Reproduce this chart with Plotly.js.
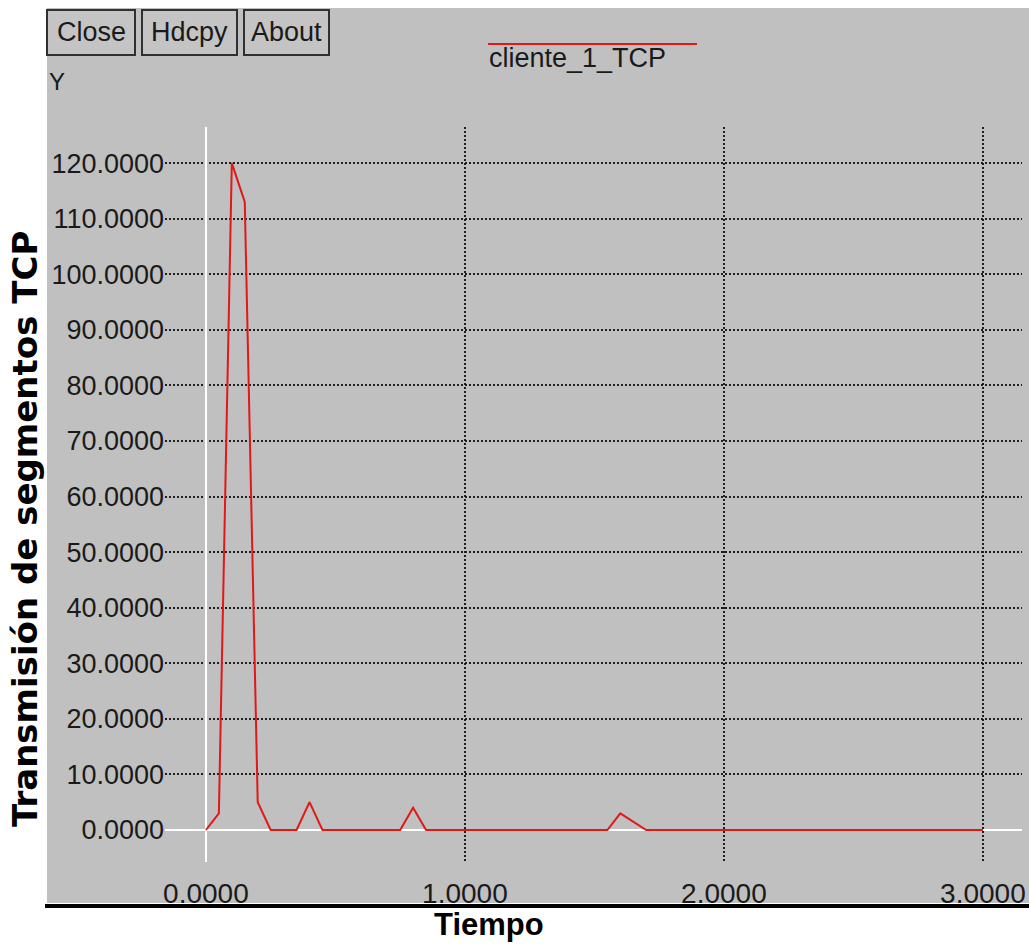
<!DOCTYPE html>
<html>
<head>
<meta charset="utf-8">
<script src="https://cdn.plot.ly/plotly-3.0.1.min.js"></script>
<style>html,body{margin:0;padding:0;background:#fff;}#chart{width:1029px;height:945px;}</style>
</head>
<body>
<div id="chart"></div>
<script>
// ---- data ----
const seriesName = "cliente_1_TCP";
const tiempo = [0, 0.05, 0.1, 0.15, 0.2, 0.25, 0.35, 0.4, 0.45, 0.75, 0.8, 0.85, 1.55, 1.6, 1.7, 3.0];
const segmentos = [0, 3, 120, 113, 5, 0, 0, 5, 0, 0, 4, 0, 0, 3, 0, 0];
const xTicks = [0, 1, 2, 3];
const yTicks = [0, 10, 20, 30, 40, 50, 60, 70, 80, 90, 100, 110, 120];
const buttonLabels = ["Close", "Hdcpy", "About"];
const xTitle = "Tiempo";
const yTitle = "Transmisión de segmentos TCP";
const yCorner = "Y";

// ---- layout helpers (pixel -> paper) ----
const W = 1029, H = 945;
const L = 165, R = 7, T = 127, B = 83;
const PW = W - L - R, PH = H - T - B;
const X = px => (px - L) / PW;
const Y = py => (H - B - py) / PH;

const FONT = "Liberation Sans, Arial, Helvetica, sans-serif";
const WIDEFONT = "DejaVu Sans, Liberation Sans, Arial, sans-serif";
const GRAY = "#c0c0c0";
const RED = "#e01818";

const shapes = [
  // white surroundings
  {type:"rect", xref:"paper", yref:"paper", x0:X(-5), x1:X(47), y0:Y(H+5), y1:Y(-5), fillcolor:"#ffffff", line:{width:0}, layer:"below"},
  {type:"rect", xref:"paper", yref:"paper", x0:X(-5), x1:X(W+5), y0:Y(8), y1:Y(-5), fillcolor:"#ffffff", line:{width:0}, layer:"below"},
  {type:"rect", xref:"paper", yref:"paper", x0:X(-5), x1:X(W+5), y0:Y(H+5), y1:Y(903), fillcolor:"#ffffff", line:{width:0}, layer:"below"},
  // black separator line
  {type:"line", xref:"paper", yref:"paper", x0:X(45), x1:X(W+5), y0:Y(906), y1:Y(906), line:{color:"#000000", width:4}},
  // legend line
  {type:"line", xref:"paper", yref:"paper", x0:X(488), x1:X(697), y0:Y(44), y1:Y(44), line:{color:RED, width:2}}
];

const btnBoxes = [[47,135],[142,237],[244,329]];
const annotations = [];
buttonLabels.forEach((lab, i) => {
  const [a, b] = btnBoxes[i];
  shapes.push({type:"rect", xref:"paper", yref:"paper", x0:X(a), x1:X(b), y0:Y(55), y1:Y(10),
    fillcolor:"#c4c4c4", line:{color:"#303030", width:2}});
  annotations.push({xref:"paper", yref:"paper", x:X((a+b)/2), y:Y(32), text:lab, showarrow:false,
    xanchor:"center", yanchor:"middle", font:{family:FONT, size:27, color:"#1a1a1a"}});
});

annotations.push(
  {xref:"paper", yref:"paper", x:X(47), y:Y(82), text:yCorner, showarrow:false, xanchor:"left", yanchor:"middle",
    font:{family:FONT, size:24, color:"#1a1a1a"}},
  {xref:"paper", yref:"paper", x:X(487), y:Y(58), text:seriesName, showarrow:false, xanchor:"left", yanchor:"middle",
    font:{family:FONT, size:27, color:"#1a1a1a"}},
  {xref:"paper", yref:"paper", x:X(489), y:Y(925), text:xTitle, showarrow:false, xanchor:"center", yanchor:"middle",
    font:{family:FONT, size:31, color:"#000000", weight:"bold"}},
  {xref:"paper", yref:"paper", x:X(25), y:Y(529), text:yTitle, showarrow:false, textangle:-90, xanchor:"center", yanchor:"middle",
    font:{family:WIDEFONT, size:34, color:"#000000", weight:"bold"}}
);

const trace = {
  type:"scatter", mode:"lines", name:seriesName,
  x: tiempo, y: segmentos,
  line:{color:RED, width:2},
  showlegend:false, hoverinfo:"skip"
};

const axisCommon = {
  showline:false, ticks:"", tickformat:".4f",
  showgrid:true, gridcolor:"#1e1e1e", griddash:"2px,2px", gridwidth:2,
  zeroline:true, zerolinecolor:"#ffffff", zerolinewidth:2,
  fixedrange:true
};

const layout = {
  width:W, height:H,
  margin:{l:L, r:R, t:T, b:B, pad:0},
  paper_bgcolor:GRAY, plot_bgcolor:GRAY,
  showlegend:false,
  xaxis:Object.assign({}, axisCommon, {range:[-0.158, 3.151], tickmode:"array", tickvals:xTicks, ticklabelstandoff:12,
    tickfont:{family:FONT, size:28, color:"#1a1a1a"}}),
  yaxis:Object.assign({}, axisCommon, {range:[-5.76, 126.5], tickmode:"array", tickvals:yTicks, ticklabelstandoff:0,
    tickfont:{family:FONT, size:27, color:"#1a1a1a"}}),
  shapes: shapes,
  annotations: annotations,
  hovermode:false
};

Plotly.newPlot("chart", [trace], layout, {displayModeBar:false, staticPlot:true});
</script>
</body>
</html>
